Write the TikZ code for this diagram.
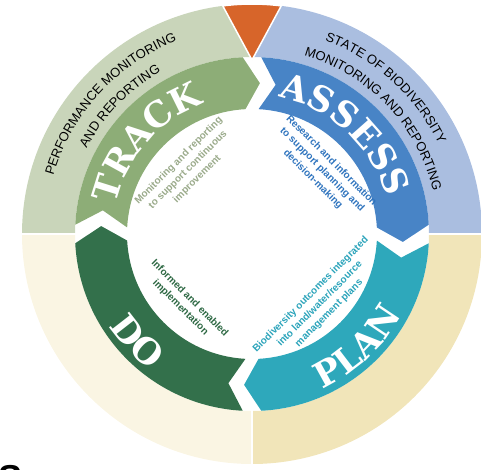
\documentclass[tikz,border=0pt]{standalone}
\usepackage{fontspec}
\usepackage{xcolor}
\usetikzlibrary{decorations.text}

\newfontfamily\ringfont{Liberation Sans}
\newfontfamily\wordfont{DejaVu Serif}

\definecolor{ringtrack}{HTML}{C9D5BA}
\definecolor{ringassess}{HTML}{AABEE0}
\definecolor{ringplan}{HTML}{F1E5B9}
\definecolor{ringdo}{HTML}{FAF5E3}
\definecolor{triorange}{HTML}{D7652A}
\definecolor{trackgreen}{HTML}{8DAD77}
\definecolor{assessblue}{HTML}{4884C6}
\definecolor{planteal}{HTML}{2EA8BB}
\definecolor{dogreen}{HTML}{33704B}
\definecolor{tracktext}{HTML}{9AAA8A}
\definecolor{assesstext}{HTML}{2F74BE}
\definecolor{plantext}{HTML}{2AA3BA}
\definecolor{dotext}{HTML}{2D6843}

\tikzset{
  desc/.style={font=\ringfont\bfseries\fontsize{10}{13}\selectfont, align=center, inner sep=0pt},
  ringline/.style={decorate, decoration={text along path, text align=center,
      text={|\ringfont\fontsize{13}{13}\selectfont|#1}}},
  bigword/.style={decorate, decoration={text along path, text align=center, text color=white,
      text={|\wordfont\bfseries\fontsize{35}{35}\selectfont|#1}}},
  gapline/.style={white, line width=2pt}
}

% ribbon: colour, tail angle, head angle (clockwise)
\newcommand{\ribbon}[3]{%
  \fill[#1] (#2:177) arc[start angle=#2, end angle=#3, radius=177]
    -- ({#3-6}:151) -- (#3:125) arc[start angle=#3, end angle=#2, radius=125]
    -- ({#2-6}:151) -- cycle;}

\begin{document}
\begin{tikzpicture}[x=1pt, y=1pt]
  \useasboundingbox (-252,-235) rectangle (229,234);

  % Outer ring
  \fill[ringassess] (0:230) arc[start angle=0, end angle=90, radius=230] -- (90:177) arc[start angle=90, end angle=0, radius=177] -- cycle;
  \fill[ringtrack] (90:230) arc[start angle=90, end angle=180, radius=230] -- (180:177) arc[start angle=180, end angle=90, radius=177] -- cycle;
  \fill[ringdo] (180:230) arc[start angle=180, end angle=270, radius=230] -- (270:177) arc[start angle=270, end angle=180, radius=177] -- cycle;
  \fill[ringplan] (270:230) arc[start angle=270, end angle=360, radius=230] -- (0:177) arc[start angle=360, end angle=270, radius=177] -- cycle;
  \draw[gapline] (0:176) -- (0:231);
  \draw[gapline] (180:176) -- (180:231);
  \draw[gapline] (270:176) -- (270:231);

  % Orange marker at the top
  \filldraw[fill=triorange, draw=white, line width=1.5pt] (97.3:230) arc[start angle=97.3, end angle=82.7, radius=230] -- (90:174) -- cycle;

  % Ring labels
  \path[ringline={PERFORMANCE MONITORING}] (177.5:207) arc[start angle=177.5, end angle=97.5, radius=207];
  \path[ringline={AND REPORTING}] (176:186) arc[start angle=176, end angle=96, radius=186];
  \path[ringline={STATE OF BIODIVERSITY}] (87.5:207) arc[start angle=87.5, end angle=7.5, radius=207];
  \path[ringline={MONITORING AND REPORTING}] (83.5:186) arc[start angle=83.5, end angle=3.5, radius=186];

  % Cycle ribbons
  \ribbon{assessblue}{87}{3}
  \ribbon{planteal}{-3}{-87}
  \ribbon{dogreen}{-93}{-177}
  \ribbon{trackgreen}{177}{93}

  % Stage names
  \path[bigword={ASSESS}] (87:139) arc[start angle=87, end angle=7, radius=139];
  \path[bigword={TRACK}] (179:139) arc[start angle=179, end angle=99, radius=139];
  \path[bigword={PLAN}] (-87:170) arc[start angle=-87, end angle=-7, radius=170];
  \path[bigword={DO}] (193:170) arc[start angle=193, end angle=253, radius=170];

  % Stage descriptions
  \node[desc, text=tracktext, rotate=45] (trackdesc) at (-64,64) {Monitoring and reporting\\to support continuous\\improvement};
  \node[desc, text=assesstext, rotate=-45] (assessdesc) at (70,64) {Research and information\\to support planning and\\decision-making};
  \node[desc, text=plantext, rotate=45] (plandesc) at (68,-70) {Biodiversity outcomes integrated\\into land/water/resource\\management plans};
  \node[desc, text=dotext, rotate=-45] (dodesc) at (-67,-69) {Informed and enabled\\implementation};

  % Cut-off letter in the corner
  \node[anchor=base west, inner sep=0pt, font=\ringfont\bfseries\fontsize{36}{36}\selectfont] (cornerS) at (-254,-256) {S};
\end{tikzpicture}
\end{document}
